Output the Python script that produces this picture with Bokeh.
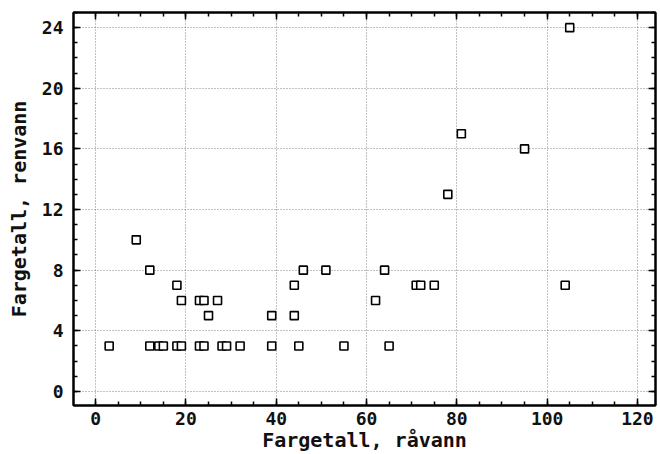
from bokeh.plotting import figure
from bokeh.models import LinearAxis, SingleIntervalTicker, CustomJSTickFormatter, Range1d, Grid
from bokeh.embed import file_html
from bokeh.resources import INLINE

raw_colour = [3, 12, 14, 15, 18, 19, 23, 24, 28, 29, 32, 39, 45, 55, 65,
              9, 12, 18, 19, 23, 24, 27, 25, 39, 44, 44, 46, 51, 64, 62,
              71, 72, 75, 104, 78, 81, 95, 105]
clean_colour = [3, 3, 3, 3, 3, 3, 3, 3, 3, 3, 3, 3, 3, 3, 3,
                10, 8, 7, 6, 6, 6, 6, 5, 5, 7, 5, 8, 8, 8, 6,
                7, 7, 7, 7, 13, 17, 16, 24]

x_label = "Fargetall, råvann"
y_label = "Fargetall, renvann"

FONT = "DejaVu Sans Mono"

p = figure(width=660, height=454, output_backend="svg", toolbar_location=None,
           x_range=Range1d(-4.9, 124), y_range=Range1d(-0.93, 25.0),
           min_border_left=73, min_border_right=5, min_border_top=12,
           min_border_bottom=49, x_axis_type=None, y_axis_type=None)

p.outline_line_color = "black"
p.outline_line_width = 2
p.background_fill_color = "white"

xt = SingleIntervalTicker(interval=20, num_minor_ticks=4)
yt = SingleIntervalTicker(interval=4, num_minor_ticks=4)
blank = CustomJSTickFormatter(code="return ''")


def style(ax, labels=True):
    ax.axis_line_color = "black"
    ax.axis_line_width = 2
    ax.major_tick_in = 7
    ax.major_tick_out = 0
    ax.minor_tick_in = 4
    ax.minor_tick_out = 0
    ax.major_tick_line_color = "black"
    ax.minor_tick_line_color = "black"
    ax.major_tick_line_width = 1.5
    ax.minor_tick_line_width = 1.5
    ax.major_label_text_font = FONT
    ax.major_label_text_font_size = "18px"
    ax.major_label_text_font_style = "bold"
    ax.major_label_text_color = "#111111"
    ax.axis_label_text_font = FONT
    ax.axis_label_text_font_size = "20px"
    ax.axis_label_text_font_style = "bold"
    ax.axis_label_text_color = "#111111"
    if not labels:
        ax.formatter = blank
        ax.major_label_text_font_size = "1px"
        ax.major_label_standoff = 0


xa = LinearAxis(ticker=xt, axis_label=x_label)
style(xa)
xa.major_label_standoff = 6
xa.axis_label_standoff = 0
p.add_layout(xa, "below")

ya = LinearAxis(ticker=yt, axis_label=y_label)
style(ya)
ya.major_label_standoff = 10
ya.axis_label_standoff = 8
p.add_layout(ya, "left")

xa2 = LinearAxis(ticker=xt)
style(xa2, labels=False)
p.add_layout(xa2, "above")

ya2 = LinearAxis(ticker=yt)
style(ya2, labels=False)
p.add_layout(ya2, "right")

for dim, tk in ((0, xt), (1, yt)):
    g = Grid(dimension=dim, ticker=tk)
    g.grid_line_color = "#666666"
    g.grid_line_dash = "1 2"
    g.grid_line_width = 1
    g.grid_line_alpha = 0.8
    p.add_layout(g, "center")

p.scatter(raw_colour, clean_colour, marker="square", size=8,
          fill_color="white", line_color="black", line_width=1.6)

open("out.html", "w").write(file_html(p, INLINE))
